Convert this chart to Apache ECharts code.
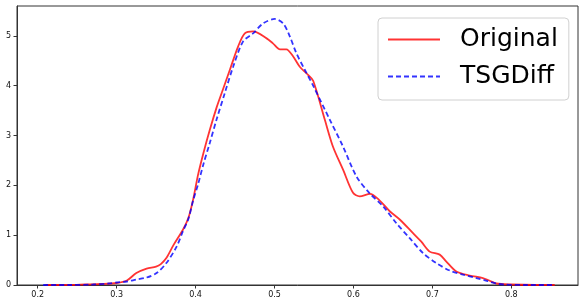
<!DOCTYPE html>
<html>
<head>
<meta charset="utf-8">
<script src="https://cdn.jsdelivr.net/npm/echarts@6/dist/echarts.min.js"></script>
<style>html,body{margin:0;padding:0;background:#fff}#c{width:586px;height:306px}</style>
</head>
<body>
<div id="c"></div>
<script>
const xTicks = [0.2, 0.3, 0.4, 0.5, 0.6, 0.7, 0.8];
const yTicks = [0, 1, 2, 3, 4, 5];
const seriesNames = ['Original', 'TSGDiff'];

const originalX = [0.21,0.24,0.26,0.28,0.30,0.313,0.325,0.338,0.350,0.356,0.363,0.372,0.384,0.391,0.397,0.403,0.410,0.418,0.427,0.433,0.4435,0.454,0.4624,0.473,0.49,0.498,0.507,0.515,0.5235,0.532,0.5425,0.549,0.5637,0.574,0.587,0.5995,0.608,0.621,0.633,0.646,0.659,0.6755,0.686,0.6966,0.7093,0.7177,0.7304,0.7473,0.764,0.772,0.781,0.80,0.83,0.855];
const originalY = [0.0,0.0,0.01,0.02,0.04,0.09,0.24,0.33,0.37,0.42,0.54,0.80,1.11,1.35,1.72,2.20,2.65,3.11,3.58,3.85,4.32,4.79,5.05,5.09,4.95,4.85,4.73,4.73,4.59,4.38,4.22,4.10,3.32,2.78,2.31,1.85,1.78,1.83,1.70,1.48,1.31,1.04,0.87,0.67,0.61,0.47,0.27,0.19,0.14,0.09,0.03,0.01,0.0,0.0];

const tsgX = [0.207,0.24,0.27,0.29,0.30,0.313,0.325,0.338,0.3506,0.363,0.376,0.384,0.391,0.397,0.403,0.4097,0.418,0.4266,0.437,0.4476,0.4603,0.4729,0.4856,0.5004,0.511,0.5194,0.5278,0.5384,0.549,0.57,0.5868,0.6038,0.6206,0.6375,0.6544,0.6713,0.6882,0.705,0.722,0.739,0.7557,0.77,0.781,0.79,0.82,0.855];
const tsgY = [0.0,0.0,0.01,0.03,0.05,0.07,0.11,0.15,0.24,0.44,0.77,1.08,1.33,1.70,2.01,2.41,2.85,3.32,3.85,4.38,4.89,5.05,5.25,5.34,5.25,4.99,4.65,4.32,4.0,3.32,2.78,2.18,1.84,1.58,1.24,0.94,0.64,0.44,0.29,0.21,0.14,0.08,0.03,0.01,0.0,0.0];

const pairs = (xs, ys) => xs.map((x, i) => [x, ys[i]]);

const chart = echarts.init(document.getElementById('c'), null, {renderer: 'canvas'});
const font = 'DejaVu Sans';
chart.setOption({
  animation: false,
  backgroundColor: '#fff',
  textStyle: {fontFamily: font},
  grid: {left: 17, right: 8, top: 6, bottom: 21, show: true, borderColor: '#333', borderWidth: 1, backgroundColor: 'transparent'},
  legend: {
    data: seriesNames,
    orient: 'vertical',
    left: 378, top: 18,
    padding: [7, 11, 9, 9],
    itemWidth: 52, itemHeight: 14, itemGap: 8,
    backgroundColor: '#fff',
    borderColor: '#d0d0d0', borderWidth: 1, borderRadius: 4,
    itemStyle: {opacity: 0},
    textStyle: {fontFamily: font, fontSize: 25, color: '#000', lineHeight: 29, padding: [0, 0, 0, 15]}
  },
  xAxis: {
    type: 'value', min: 0.1738, max: 0.8845,
    splitLine: {show: false},
    axisLine: {show: true, lineStyle: {color: '#333'}},
    axisTick: {show: true, length: 3.5, customValues: xTicks, lineStyle: {color: '#333'}},
    axisLabel: {customValues: xTicks, fontSize: 8, color: '#111', margin: 6, fontFamily: font, formatter: v => v.toFixed(1)}
  },
  yAxis: {
    type: 'value', min: 0, max: 5.6,
    splitLine: {show: false},
    axisLine: {show: true, lineStyle: {color: '#333'}},
    axisTick: {show: true, length: 3.5, customValues: yTicks, lineStyle: {color: '#333'}},
    axisLabel: {customValues: yTicks, fontSize: 8, color: '#111', margin: 6, fontFamily: font, formatter: v => String(v)}
  },
  series: [
    {name: seriesNames[0], type: 'line', data: pairs(originalX, originalY), symbol: 'none', smooth: 0.3,
     lineStyle: {color: 'rgba(255,0,0,0.8)', width: 1.8}, itemStyle: {color: 'rgba(255,0,0,0.8)'}},
    {name: seriesNames[1], type: 'line', data: pairs(tsgX, tsgY), symbol: 'none', smooth: 0.3,
     lineStyle: {color: 'rgba(0,0,255,0.8)', width: 1.8, type: [5, 3]}, itemStyle: {color: 'rgba(0,0,255,0.8)'}}
  ]
});
</script>
</body>
</html>
